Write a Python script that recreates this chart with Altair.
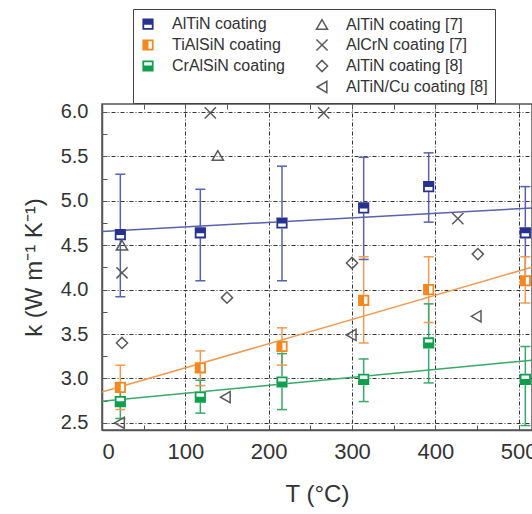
import altair as alt
import pandas as pd

# ---------------- data ----------------
T_meas = [22, 118, 216, 314, 392, 508]
series_names = ["AlTiN coating", "TiAlSiN coating", "CrAlSiN coating"]
k_altin = [4.62, 4.64, 4.75, 4.92, 5.16, 4.64]
lo_altin = [3.92, 4.10, 4.10, 4.34, 4.76, 4.12]
hi_altin = [5.30, 5.13, 5.39, 5.49, 5.54, 5.16]
k_tialsin = [2.90, 3.12, 3.36, 3.88, 4.00, 4.10]
lo_tialsin = [2.65, 2.92, 3.15, 3.40, 3.63, 3.85]
hi_tialsin = [3.15, 3.31, 3.57, 4.37, 4.37, 4.37]
k_cralsin = [2.74, 2.79, 2.96, 2.99, 3.40, 2.99]
lo_cralsin = [2.55, 2.61, 2.65, 2.74, 2.95, 2.47]
hi_cralsin = [2.95, 2.98, 3.28, 3.22, 3.84, 3.36]

lit_names = ["AlTiN coating [7]", "AlCrN coating [7]", "AlTiN coating [8]", "AlTiN/Cu coating [8]"]
T_altin7 = [24, 139]
k_altin7 = [4.50, 5.51]
T_alcrn7 = [24, 130, 266, 427]
k_alcrn7 = [4.19, 5.99, 5.99, 4.80]
T_altin8 = [24, 150, 300, 451]
k_altin8 = [3.40, 3.91, 4.30, 4.40]
T_altincu8 = [21, 148, 299, 449]
k_altincu8 = [2.50, 2.79, 3.49, 3.70]

x_ticks = [0, 50, 100, 150, 200, 250, 300, 350, 400, 450, 500]
y_ticks = [2.5, 2.75, 3.0, 3.25, 3.5, 3.75, 4.0, 4.25, 4.5, 4.75, 5.0, 5.25, 5.5, 5.75, 6.0]
x_major = [0, 100, 200, 300, 400, 500]
y_major = [2.5, 3.0, 3.5, 4.0, 4.5, 5.0, 5.5, 6.0]

# ---------------- tables ----------------
meas_rows = []
for name, ks, los, his in [
    (series_names[0], k_altin, lo_altin, hi_altin),
    (series_names[1], k_tialsin, lo_tialsin, hi_tialsin),
    (series_names[2], k_cralsin, lo_cralsin, hi_cralsin),
]:
    for t, k, lo, hi in zip(T_meas, ks, los, his):
        meas_rows.append({"series": name, "label": name, "T": t, "k": k, "lo": lo, "hi": hi})
meas = pd.DataFrame(meas_rows)

lit_rows = []
for name, ts, ks in [
    (lit_names[0], T_altin7, k_altin7),
    (lit_names[1], T_alcrn7, k_alcrn7),
    (lit_names[2], T_altin8, k_altin8),
    (lit_names[3], T_altincu8, k_altincu8),
]:
    for t, k in zip(ts, ks):
        lit_rows.append({"label": name, "T": t, "k": k})
lit = pd.DataFrame(lit_rows)
points = pd.concat([meas[["label", "T", "k"]], lit], ignore_index=True)

# ---------------- styles ----------------
FONT = "Liberation Sans"
GRAY = "#5a5a5a"
mark_cols = ["#27318f", "#f5871f", "#0ea04d"]
line_cols = ["#5862ae", "#f39a52", "#3aa868"]

P_TOP = "M-1,-1H1V1H-1Z M-0.68,0.08V0.68H0.68V0.08Z"
P_LEFT = "M-1,-1H1V1H-1Z M0.08,-0.68V0.68H0.68V-0.68Z"
P_BOTTOM = "M-1,-1H1V1H-1Z M-0.68,-0.68V-0.08H0.68V-0.68Z"
P_X = "M-1,-1L1,1M-1,1L1,-1"

# legend is filled column by column: 4 rows x 2 columns
legend_domain = [
    "AlTiN coating", "TiAlSiN coating", "CrAlSiN coating", " ",
    "AlTiN coating [7]", "AlCrN coating [7]", "AlTiN coating [8]", "AlTiN/Cu coating [8]",
]
fill_range = [mark_cols[0], mark_cols[1], mark_cols[2], "transparent",
              "transparent", "transparent", "transparent", "transparent"]
stroke_range = ["transparent", "transparent", "transparent", "transparent",
                GRAY, GRAY, GRAY, GRAY]
shape_range = [P_TOP, P_LEFT, P_BOTTOM, "circle", "triangle-up", P_X, "diamond", "triangle-left"]

xs = alt.Scale(domain=[0, 516], nice=False, zero=False)
ys = alt.Scale(domain=[2.42, 6.09], nice=False, zero=False)
cscale = alt.Scale(domain=series_names, range=line_cols)

legend = alt.Legend(
    title=None, orient="none", legendX=31, legendY=-95, columns=2,
    columnPadding=28, rowPadding=3, padding=7, strokeColor="#444",
    labelFontSize=16, labelFont=FONT, labelColor="#333", labelOffset=16,
    symbolSize=125, symbolStrokeWidth=1.5, labelLimit=300,
)

main_x_axis = alt.Axis(
    orient="bottom",
    title="T (°C)", values=x_major, grid=True, gridDash=[4, 2, 1, 2], gridColor="#333",
    gridWidth=1, ticks=False, tickSize=0, labelFontSize=22, labelFont=FONT, labelColor="#333",
    labelPadding=11, domainColor="#555", domainWidth=1.5, titleFontSize=24, titleFont=FONT,
    titleColor="#333", titleFontWeight="normal", titlePadding=20, format="d",
)
main_y_axis = alt.Axis(
    orient="left",
    title="k (W m⁻¹ K⁻¹)", values=y_major, grid=True, gridDash=[4, 2, 1, 2], gridColor="#333",
    gridWidth=1, ticks=False, tickSize=0, labelFontSize=20, labelFont=FONT, labelColor="#333",
    labelPadding=14, domainColor="#555", domainWidth=1.5, titleFontSize=24, titleFont=FONT,
    titleColor="#333", titleFontWeight="normal", titlePadding=14, format=".1f",
)
tick_x_bottom = alt.Axis(orient="bottom", offset=-5, values=x_ticks, tickSize=5, tickColor="#555",
                         tickWidth=1, labels=False, domain=False, grid=False, title=None)
tick_y_left = alt.Axis(orient="left", offset=-5, values=y_ticks, tickSize=5, tickColor="#555",
                       tickWidth=1, labels=False, domain=False, grid=False, title=None)
tick_x_top = alt.Axis(orient="top", offset=-5, values=x_ticks, tickSize=5, tickColor="#555",
                      tickWidth=1, labels=False, domain=False, grid=False, title=None)

# ---------------- layers ----------------
reg = alt.Chart(meas).transform_regression(
    "T", "k", groupby=["series"], extent=[0, 516]
).mark_line(strokeWidth=1.5).encode(
    x=alt.X("T:Q", scale=xs, axis=tick_x_bottom),
    y=alt.Y("k:Q", scale=ys, axis=tick_y_left),
    color=alt.Color("series:N", scale=cscale, legend=None),
)

err = alt.Chart(meas).mark_rule(strokeWidth=1.5).encode(
    x=alt.X("T:Q", scale=xs, axis=main_x_axis),
    y=alt.Y("lo:Q", scale=ys, axis=main_y_axis),
    y2="hi:Q",
    color=alt.Color("series:N", scale=cscale, legend=None),
)

cap_lo = alt.Chart(meas).mark_tick(orient="horizontal", size=10, thickness=1.5, opacity=1).encode(
    x=alt.X("T:Q", scale=xs, axis=None),
    y=alt.Y("lo:Q", scale=ys, axis=None),
    color=alt.Color("series:N", scale=cscale, legend=None),
)
cap_hi = alt.Chart(meas).mark_tick(orient="horizontal", size=10, thickness=1.5, opacity=1).encode(
    x=alt.X("T:Q", scale=xs, axis=None),
    y=alt.Y("hi:Q", scale=ys, axis=None),
    color=alt.Color("series:N", scale=cscale, legend=None),
)

under = alt.Chart(meas).mark_point(shape="square", filled=True, color="white", size=125, opacity=1).encode(
    x=alt.X("T:Q", scale=xs, axis=tick_x_top),
    y=alt.Y("k:Q", scale=ys, axis=None),
)

pts = alt.Chart(points).mark_point(size=125, opacity=1, strokeWidth=1.5).encode(
    x=alt.X("T:Q", scale=xs, axis=None),
    y=alt.Y("k:Q", scale=ys, axis=None),
    fill=alt.Fill("label:N", scale=alt.Scale(domain=legend_domain, range=fill_range), legend=legend),
    stroke=alt.Stroke("label:N", scale=alt.Scale(domain=legend_domain, range=stroke_range), legend=legend),
    shape=alt.Shape("label:N", scale=alt.Scale(domain=legend_domain, range=shape_range), legend=legend),
)

chart = alt.layer(reg, err, cap_lo, cap_hi, under, pts).resolve_axis(
    x="independent", y="independent"
).properties(
    width=430, height=326,
    padding={"left": 102, "top": 104, "right": 0, "bottom": 84},
    autosize=alt.AutoSizeParams(type="none"),
    background="white",
).configure_view(stroke="#555", strokeWidth=1.5)

chart.save("out.html", embed_options={"renderer": "svg", "actions": False})
